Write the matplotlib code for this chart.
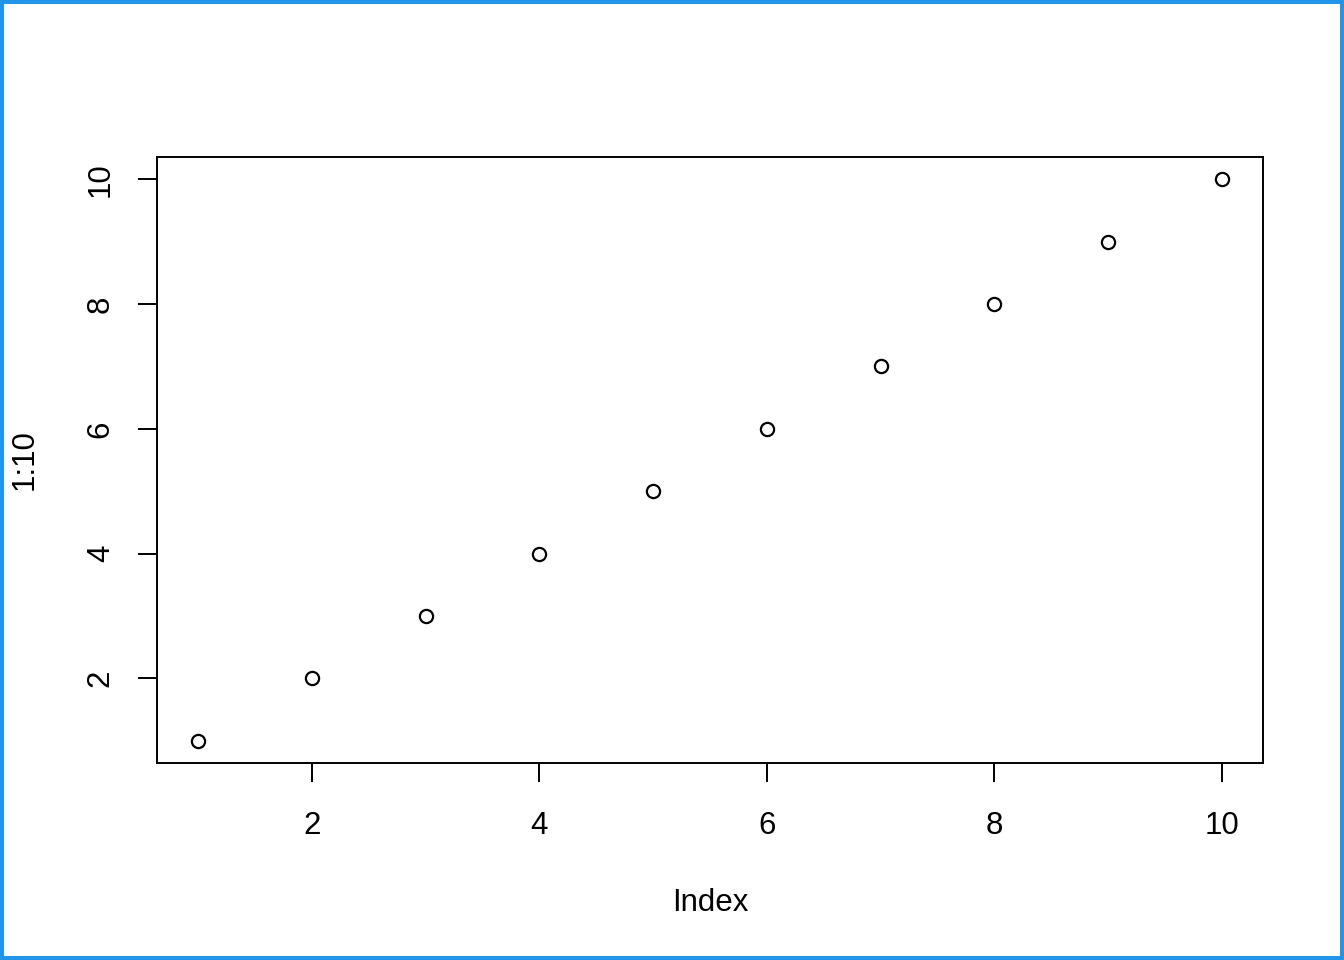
import matplotlib
matplotlib.use("Agg")
import matplotlib.pyplot as plt
from matplotlib.patches import Rectangle

x_values = [1, 2, 3, 4, 5, 6, 7, 8, 9, 10]
y_values = [1, 2, 3, 4, 5, 6, 7, 8, 9, 10]
x_ticks = [2, 4, 6, 8, 10]
y_ticks = [2, 4, 6, 8, 10]
x_label = "Index"
y_label = "1:10"

plt.rcParams['font.family'] = ['Liberation Sans', 'DejaVu Sans']

W, H = 1344, 960
fig = plt.figure(figsize=(W / 100, H / 100), dpi=100)
fig.patch.set_facecolor('white')

L, R, T, B = 157, 1263, 157, 763
ax = fig.add_axes([L / W, (H - B) / H, (R - L) / W, (B - T) / H])

ax.plot(x_values, y_values, linestyle='none', marker='o', markersize=9.5,
        markerfacecolor='none', markeredgecolor='black', markeredgewidth=1.6)

ax.set_xlim(0.64, 10.36)
ax.set_ylim(0.64, 10.36)
ax.set_xticks(x_ticks)
ax.set_yticks(y_ticks)
ax.set_xticklabels([str(t) for t in x_ticks])
ax.set_yticklabels([str(t) for t in y_ticks], rotation=90, va='center')

for s in ax.spines.values():
    s.set_linewidth(1.4)
    s.set_color('black')

ax.tick_params(axis='both', direction='out', length=13.7, width=1.4,
               labelsize=22.5, colors='black')
ax.tick_params(axis='x', pad=21)
ax.tick_params(axis='y', pad=16)

ax.set_xlabel(x_label, fontsize=22.5)
ax.set_ylabel(y_label, fontsize=22.5)
ax.xaxis.set_label_coords(0.5, (B - 888) / (B - T))
ax.yaxis.set_label_coords((40 - L) / (R - L), 0.5)

fig.patches.append(Rectangle((0, 0), 1, 1, transform=fig.transFigure, fill=False,
                             edgecolor='#2196E8', linewidth=5.8, zorder=10))

fig.savefig('out.png', dpi=100, facecolor='white')
